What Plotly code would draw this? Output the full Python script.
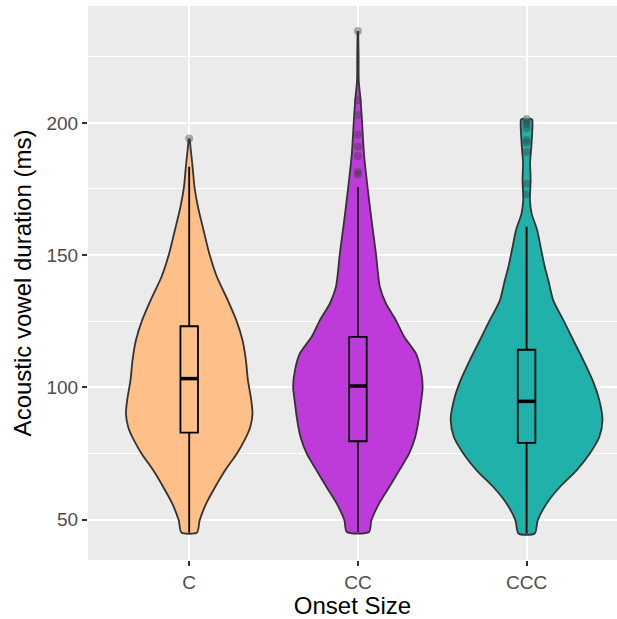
import plotly.graph_objects as go

# ---- data ----
categories = ["C", "CC", "CCC"]
positions = [1, 2, 3]
fill_colors = ["#FEC088", "#BE3ADA", "#20B2AA"]

# violin outlines: duration levels (ms) and half-width (category units)
c_y = [194.1, 190, 183.4, 175.8, 168.2, 159.4, 150.6, 141.8, 132.9, 125.4, 117.8,
       110.3, 102.7, 95.1, 90.1, 85.0, 80.0, 75.0, 68.6, 62.3, 56.1, 49.7, 45.1]
c_hw = [0.003, 0.009, 0.020, 0.031, 0.052, 0.085, 0.119, 0.164, 0.229, 0.279, 0.316,
        0.336, 0.348, 0.368, 0.375, 0.362, 0.328, 0.283, 0.213, 0.154, 0.101, 0.062, 0.046]

cc_y = [234.7, 225, 216, 208.6, 201.0, 188.4, 175.8, 163.2, 150.6, 138.0, 131.7, 125.4,
        119.1, 112.8, 106.5, 100.2, 93.9, 87.6, 81.2, 75.0, 68.6, 62.3, 56.1, 49.7, 45.3]
cc_hw = [0.002, 0.004, 0.005, 0.016, 0.024, 0.036, 0.057, 0.081, 0.107, 0.130, 0.166, 0.225,
         0.274, 0.344, 0.373, 0.384, 0.373, 0.360, 0.340, 0.304, 0.245, 0.186, 0.126, 0.080, 0.066]

ccc_y = [201.6, 201.3, 196, 190, 185, 178.3, 170.8, 165.7, 159.4, 153.1, 145.5, 140.5, 132.9,
         125.4, 117.8, 110.3, 102.7, 95.1, 87.6, 81.2, 75.0, 68.6, 62.3, 56.1, 49.7, 44.7]
ccc_hw = [0.018, 0.033, 0.033, 0.027, 0.021, 0.024, 0.020, 0.030, 0.063, 0.083, 0.108, 0.129, 0.158,
          0.218, 0.277, 0.336, 0.391, 0.431, 0.450, 0.431, 0.375, 0.296, 0.197, 0.119, 0.066, 0.048]

# box plot statistics
q1 = [82.9, 79.6, 79.0]
medians = [103.3, 100.5, 94.7]
q3 = [123.1, 119.1, 114.2]
lower_fence = [45.1, 45.3, 44.7]
upper_fence = [183.4, 175.8, 160.7]

# outliers
c_out = [194.1]
cc_out = [234.7, 208.6, 203.0, 195.5, 191.0, 187.5, 181.5, 180.5]
ccc_out = [201.5, 200.5, 199.5, 198.0, 193.5, 192.5, 189.0, 177.0, 173.0]

violins = [(c_y, c_hw), (cc_y, cc_hw), (ccc_y, ccc_hw)]
outliers = [c_out, cc_out, ccc_out]
BOX_W = 0.104

fig = go.Figure()

for pos, (ys, hws), col in zip(positions, violins, fill_colors):
    xs = [pos + h for h in hws] + [pos - h for h in reversed(hws)]
    yy = list(ys) + list(reversed(ys))
    fig.add_trace(go.Scatter(
        x=xs, y=yy, mode="lines", fill="toself", fillcolor=col,
        line=dict(color="#333333", width=1.8, shape="spline", smoothing=0.7),
        hoverinfo="skip", showlegend=False))

# boxes on an overlaid axis pair so they render above the violins
fig.add_trace(go.Box(
    x=positions, q1=q1, median=medians, q3=q3,
    lowerfence=lower_fence, upperfence=upper_fence,
    width=BOX_W, whiskerwidth=0, boxpoints=False,
    fillcolor="rgba(0,0,0,0)", line=dict(color="black", width=1.8),
    xaxis="x2", yaxis="y2", showlegend=False))

# thicker median bars
mx, my = [], []
for pos, m in zip(positions, medians):
    mx += [pos - BOX_W / 2, pos + BOX_W / 2, None]
    my += [m, m, None]
fig.add_trace(go.Scatter(x=mx, y=my, mode="lines",
                         line=dict(color="black", width=3.5),
                         xaxis="x2", yaxis="y2",
                         hoverinfo="skip", showlegend=False))

ox, oy = [], []
for pos, vals in zip(positions, outliers):
    ox += [pos] * len(vals)
    oy += vals
fig.add_trace(go.Scatter(x=ox, y=oy, mode="markers",
                         marker=dict(color="rgba(60,60,60,0.4)", size=8, line=dict(width=0)),
                         xaxis="x2", yaxis="y2", showlegend=False))

X_RANGE = [0.4, 3.536]
Y_RANGE = [34.7, 244.2]

fig.update_layout(
    width=617, height=619,
    margin=dict(l=88, r=0, t=6, b=59),
    paper_bgcolor="white", plot_bgcolor="#EBEBEB",
    font=dict(family="Liberation Sans, Arial, sans-serif", color="#4D4D4D", size=19),
    showlegend=False,
    xaxis=dict(
        range=X_RANGE, tickvals=positions, ticktext=categories,
        showgrid=True, gridcolor="white", gridwidth=2, zeroline=False,
        ticks="outside", ticklen=5, tickwidth=1.5, tickcolor="#333333",
        tickfont=dict(size=19, color="#4D4D4D"),
        title=dict(text="Onset Size", font=dict(size=24, color="black"), standoff=6),
        showline=False,
    ),
    yaxis=dict(
        range=Y_RANGE, tick0=0, dtick=50,
        showgrid=True, gridcolor="white", gridwidth=2, zeroline=False,
        minor=dict(dtick=25, tick0=0, showgrid=True, gridcolor="white", gridwidth=1, ticks=""),
        ticks="outside", ticklen=5, tickwidth=1.5, tickcolor="#333333",
        tickfont=dict(size=19, color="#4D4D4D"),
        title=dict(text="Acoustic vowel duration (ms)", font=dict(size=24, color="black"), standoff=8),
        showline=False,
    ),
    xaxis2=dict(range=X_RANGE, overlaying="x", visible=False, showgrid=False, zeroline=False),
    yaxis2=dict(range=Y_RANGE, overlaying="y", visible=False, showgrid=False, zeroline=False),
)

fig.write_html("out.html")
